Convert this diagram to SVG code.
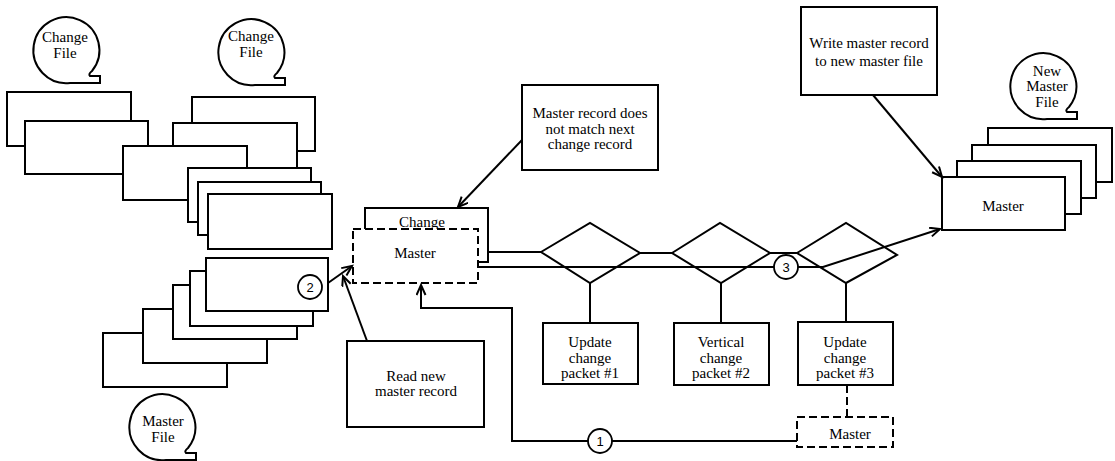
<svg xmlns="http://www.w3.org/2000/svg" width="1115" height="461" viewBox="0 0 1115 461">
<style>
.box{fill:#fff;stroke:#000;stroke-width:2}
.dash{fill:#fff;stroke:#000;stroke-width:2;stroke-dasharray:8,4}
.ln{fill:none;stroke:#000;stroke-width:2}
.dl{fill:none;stroke:#000;stroke-width:2;stroke-dasharray:8,4}
.arr{fill:none;stroke:#000;stroke-width:2;marker-end:url(#ah)}
.num{fill:#fff;stroke:#000;stroke-width:1.8}
text{font-family:"Liberation Serif","DejaVu Serif",serif;font-size:15px;fill:#000;text-anchor:middle}
.nt{font-family:"Liberation Sans","DejaVu Sans",sans-serif;font-size:13px}
</style>
<defs>
<marker id="ah" markerUnits="userSpaceOnUse" markerWidth="14" markerHeight="12" refX="11" refY="5" orient="auto">
<path d="M1,0.5 L11,5 L1,9.5" fill="none" stroke="#000" stroke-width="2"/>
</marker>
<path id="bub" d="M25,21 A33 33 0 1 0 3,33 L33,33 L33,26 L23,26 Q21,24 25,21 Z" fill="#fff" stroke="#000" stroke-width="2"/>
</defs>

<g id="change-file-1-label">
<use href="#bub" x="67" y="50"/>
<text x="65" y="42">Change</text>
<text x="65" y="58">File</text>
</g>
<g id="change-file-2-label">
<use href="#bub" x="252" y="52"/>
<text x="251" y="41">Change</text>
<text x="251" y="57">File</text>
</g>
<g id="master-file-label">
<use href="#bub" x="163" y="427"/>
<text x="163" y="426">Master</text>
<text x="163" y="442">File</text>
</g>
<g id="new-master-file-label">
<use href="#bub" x="1044" y="86"/>
<text x="1047" y="76">New</text>
<text x="1047" y="91">Master</text>
<text x="1047" y="107">File</text>
</g>

<g id="change-file-records">
<rect class="box" x="7" y="92" width="124" height="54"/>
<rect class="box" x="25" y="121" width="123" height="53"/>
<rect class="box" x="192" y="97" width="123" height="54"/>
<rect class="box" x="173" y="123" width="124" height="45"/>
<rect class="box" x="123" y="146" width="124" height="54"/>
<rect class="box" x="188" y="168" width="123" height="54"/>
<rect class="box" x="198" y="182" width="123" height="53"/>
<rect class="box" x="208" y="194" width="124" height="55"/>
</g>

<g id="master-file-records">
<rect class="box" x="103" y="333" width="124" height="54"/>
<rect class="box" x="143" y="309" width="124" height="54"/>
<rect class="box" x="173" y="285" width="124" height="54"/>
<rect class="box" x="190" y="271" width="123" height="55"/>
<rect class="box" x="206" y="258" width="122" height="53"/>
</g>

<g id="new-master-records">
<rect class="box" x="988" y="128" width="124" height="54"/>
<rect class="box" x="972" y="145" width="124" height="53"/>
<rect class="box" x="957" y="161" width="124" height="53"/>
<rect class="box" x="942" y="177" width="123" height="53"/>
<text x="1003" y="211">Master</text>
</g>

<g id="current-records">
<rect class="box" x="365" y="208" width="123" height="54"/>
<text x="422" y="227">Change</text>
<rect class="dash" x="353" y="229" width="125" height="54"/>
<text x="415" y="258">Master</text>
</g>

<g id="diamond-1"><path class="box" d="M541,252 L590,223 L640,253 L590,283 Z"/></g>
<g id="diamond-2"><path class="box" d="M672,253 L720,223 L770,253 L721,283 Z"/></g>
<g id="diamond-3"><path class="box" d="M797,253 L846,223 L897,255 L846,283 Z"/></g>

<g id="packet-1">
<rect class="box" x="543" y="323" width="95" height="61"/>
<text x="590" y="347">Update</text>
<text x="590" y="363">change</text>
<text x="590" y="378">packet #1</text>
</g>
<g id="packet-2">
<rect class="box" x="674" y="323" width="95" height="62"/>
<text x="721" y="347">Vertical</text>
<text x="721" y="363">change</text>
<text x="721" y="378">packet #2</text>
</g>
<g id="packet-3">
<rect class="box" x="798" y="322" width="95" height="63"/>
<text x="845" y="347">Update</text>
<text x="845" y="363">change</text>
<text x="845" y="378">packet #3</text>
</g>
<g id="master-out">
<rect class="dash" x="797" y="417" width="96" height="30"/>
<text x="850" y="439">Master</text>
</g>

<g id="note-no-match">
<rect class="box" x="522" y="85" width="136" height="85"/>
<text x="590" y="118">Master record does</text>
<text x="590" y="134">not match next</text>
<text x="590" y="149">change record</text>
</g>
<g id="note-write">
<rect class="box" x="801" y="7" width="136" height="88"/>
<text x="869" y="48">Write master record</text>
<text x="869" y="66">to new master file</text>
</g>
<g id="note-read">
<rect class="box" x="347" y="341" width="137" height="86"/>
<text x="416" y="381">Read new</text>
<text x="416" y="396">master record</text>
</g>

<g id="connectors">
<line class="ln" x1="488" y1="252" x2="541" y2="252"/>
<line class="ln" x1="640" y1="253" x2="672" y2="253"/>
<line class="ln" x1="770" y1="253" x2="797" y2="253"/>
<line class="ln" x1="478" y1="267" x2="774" y2="267"/>
<polyline class="arr" points="798,267 823,267 940,229"/>
<circle class="num" cx="786" cy="267" r="12"/>
<text class="nt" x="786" y="272">3</text>
<line class="ln" x1="590" y1="283" x2="590" y2="323"/>
<line class="ln" x1="721" y1="283" x2="721" y2="323"/>
<line class="ln" x1="846" y1="283" x2="846" y2="322"/>
<line class="dl" x1="847" y1="385" x2="847" y2="417"/>
<polyline class="ln" points="797,441 612,441"/>
<polyline class="arr" points="588,441 512,441 512,308 421,308 421,285"/>
<circle class="num" cx="600" cy="441" r="12"/>
<text class="nt" x="600" y="446">1</text>
<line class="arr" x1="328" y1="283" x2="352" y2="266"/>
<circle class="num" cx="310" cy="287" r="12"/>
<text class="nt" x="310" y="292">2</text>
<line class="arr" x1="367" y1="341" x2="343" y2="276"/>
<line class="arr" x1="522" y1="140" x2="458" y2="207"/>
<line class="arr" x1="873" y1="95" x2="942" y2="177"/>
</g>
</svg>
